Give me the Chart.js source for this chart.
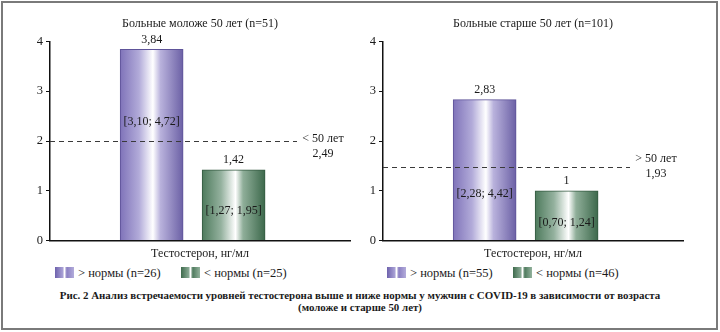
<!DOCTYPE html>
<html>
<head>
<meta charset="utf-8">
<script src="https://cdn.jsdelivr.net/npm/chart.js@4"></script>
<style>
  body { margin: 0; background: #fff; }
  #page { position: relative; width: 720px; height: 332px; font-family: "Liberation Serif", serif; color: #1a1a1a; }
  #frame { position: absolute; left: 1px; top: 1px; width: 717px; height: 329px; box-sizing: border-box; border: 2px solid #7a7a7a; }
  canvas { position: absolute; top: 0; }
  .leg { position: absolute; top: 266px; font-size: 12.5px; line-height: 14px; white-space: nowrap; }
  .sw { display: inline-block; width: 19px; height: 11px; vertical-align: -1px; margin-right: 4px; }
  .sw.up { background: linear-gradient(to right, #6e62ad 0%, #a79fd4 40%, #ffffff 50%, #8a7fc2 62%, #b3acdb 100%); }
  .sw.down { background: linear-gradient(to right, #3f6b4d 0%, #86a892 40%, #ffffff 50%, #4f7b5e 62%, #93b29d 100%); }
  #caption { position: absolute; left: 0; width: 720px; top: 289px; text-align: center; font-weight: bold; font-size: 10.9px; line-height: 12px; }
</style>
</head>
<body>
<div id="page">
  <div id="frame"></div>
  <canvas id="young" width="360" height="261" style="left:0px"></canvas>
  <canvas id="older" width="360" height="261" style="left:333px"></canvas>
  <div id="legYoung"></div>
  <div id="legOlder"></div>
  <div id="caption">Рис. 2 Анализ встречаемости уровней тестостерона выше и ниже нормы у мужчин с COVID-19 в зависимости от возраста<br>(моложе и старше 50 лет)</div>
</div>
<script>
// Данные
const categories = ['> нормы', '< нормы'];
const youngValues = [3.84, 1.42];
const olderValues = [2.83, 1];
const youngIntervals = ['[3,10; 4,72]', '[1,27; 1,95]'];
const olderIntervals = ['[2,28; 4,42]', '[0,70; 1,24]'];
const youngCounts = [26, 25];
const olderCounts = [55, 46];
const yTicks = [0, 1, 2, 3, 4];
const titles = ['Больные моложе 50 лет (n=51)', 'Больные старше 50 лет (n=101)'];
const axisTitle = 'Тестостерон, нг/мл';
const refLabels = [['< 50 лет', '2,49'], ['> 50 лет', '1,93']];
const refLevels = [2.0, 1.47]; // уровень пунктирной линии на рисунке

const FONT = '"Liberation Serif", "Times New Roman", serif';
const purpleStops = [[0, '#7f73b9'], [0.3, '#b2abd9'], [0.52, '#ffffff'], [0.64, '#b9b2dc'], [1, '#6b60a5']];
const greenStops = [[0, '#4d7a5c'], [0.3, '#94b19e'], [0.53, '#ffffff'], [0.65, '#8fae99'], [1, '#3c684b']];

function barFill(c) {
  const chart = c.chart;
  const stops = c.dataIndex === 0 ? purpleStops : greenStops;
  if (!chart.chartArea || !c.raw) return stops[0][1];
  const x = chart.scales.x.getPixelForValue(c.raw.x);
  const g = chart.ctx.createLinearGradient(x - 31.5, 0, x + 31.5, 0);
  stops.forEach(s => g.addColorStop(s[0], s[1]));
  return g;
}

const annotate = {
  id: 'annotate',
  afterDatasetsDraw(chart, args, opts) {
    const { ctx, chartArea } = chart;
    const y = chart.scales.y;
    ctx.save();
    // пунктирная линия нормы
    const ly = Math.round(y.getPixelForValue(opts.refLevel)) + 0.5;
    ctx.setLineDash([5, 4]);
    ctx.strokeStyle = '#3a3a3a';
    ctx.lineWidth = 1;
    ctx.beginPath();
    ctx.moveTo(chartArea.left, ly);
    ctx.lineTo(chartArea.left + 247, ly);
    ctx.stroke();
    ctx.setLineDash([]);

    ctx.font = '12px ' + FONT;
    ctx.fillStyle = '#1a1a1a';
    ctx.textAlign = 'center';
    ctx.textBaseline = 'middle';
    opts.refText.forEach((t, i) => ctx.fillText(t, chartArea.left + 273, ly + opts.refDy + i * 15));

    // подписи столбцов
    const meta = chart.getDatasetMeta(0);
    meta.data.forEach((bar, i) => {
      const v = chart.data.datasets[0].data[i].y;
      ctx.fillText(String(v).replace('.', ','), bar.x, bar.y - 10);
      ctx.fillText(opts.intervals[i], bar.x, y.getPixelForValue(opts.intervalAt[i]));
    });
    ctx.restore();
  }
};

function makeChart(id, title, values, intervals, refIdx, intervalAt, refDy) {
  return new Chart(document.getElementById(id), {
    type: 'bar',
    data: {
      labels: categories,
      datasets: [{
        data: values.map((v, i) => ({ x: i + 1, y: v })),
        backgroundColor: barFill,
        borderColor: (c) => c.dataIndex === 0 ? '#5e5399' : '#345a41',
        borderWidth: 1,
        barThickness: 63
      }]
    },
    options: {
      responsive: false,
      animation: false,
      layout: { padding: { left: 0, right: 10, top: 0, bottom: 0 } },
      scales: {
        x: {
          type: 'linear',
          offset: false,
          min: -0.24,
          max: 3.42,
          grid: { display: false, drawTicks: false },
          border: { display: true, color: '#111', width: 1.5 },
          ticks: { display: false },
          title: { display: true, text: axisTitle, color: '#1a1a1a', font: { family: FONT, size: 12 }, padding: { top: 6, bottom: 0 } }
        },
        y: {
          min: 0,
          max: 4,
          afterFit: (s) => { s.width = 50; },
          afterBuildTicks: (s) => { s.ticks = yTicks.map(v => ({ value: v })); },
          grid: { drawOnChartArea: false, drawTicks: true, tickLength: 4, color: '#111' },
          border: { color: '#111', width: 1.5 },
          ticks: { color: '#1a1a1a', padding: 3, font: { family: FONT, size: 12.5 } }
        }
      },
      plugins: {
        legend: { display: false },
        tooltip: { enabled: false },
        title: {
          display: true,
          text: title,
          fullSize: false,
          color: '#1a1a1a',
          font: { family: FONT, size: 12, weight: 'normal' },
          padding: { top: 17, bottom: 10 }
        },
        annotate: {
          refLevel: refLevels[refIdx],
          refText: refLabels[refIdx],
          refDy: refDy,
          intervals: intervals,
          intervalAt: intervalAt
        }
      }
    },
    plugins: [annotate]
  });
}

makeChart('young', titles[0], youngValues, youngIntervals, 0, [2.38, 0.59], -3);
makeChart('older', titles[1], olderValues, olderIntervals, 1, [0.93, 0.35], -9);

// легенды
function legend(id, left, counts) {
  const el = document.getElementById(id);
  el.innerHTML =
    '<span class="leg" style="left:' + left + 'px"><span class="sw up"></span>' + categories[0] + ' (n=' + counts[0] + ')</span>' +
    '<span class="leg" style="left:' + (left + 126) + 'px"><span class="sw down"></span>' + categories[1] + ' (n=' + counts[1] + ')</span>';
}
legend('legYoung', 55, youngCounts);
legend('legOlder', 387, olderCounts);
</script>
</body>
</html>
